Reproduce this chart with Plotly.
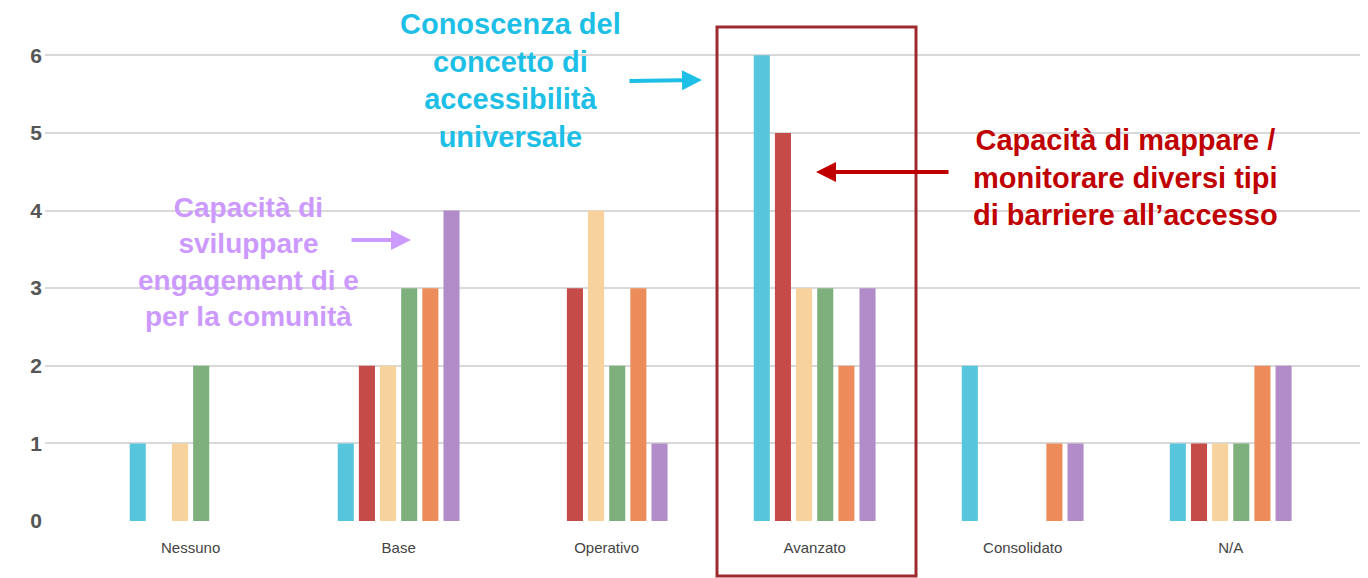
import plotly.graph_objects as go

categories = ["Nessuno", "Base", "Operativo", "Avanzato", "Consolidato", "N/A"]
series_names = ["Conoscenza del concetto di accessibilità universale",
                "Capacità di mappare / monitorare diversi tipi di barriere all'accesso",
                "Serie 3", "Serie 4", "Serie 5",
                "Capacità di sviluppare engagement di e per la comunità"]
s_cyan = [1, 1, 0, 6, 2, 1]
s_red = [0, 2, 3, 5, 0, 1]
s_beige = [1, 2, 4, 3, 0, 1]
s_green = [2, 3, 2, 3, 0, 1]
s_orange = [0, 3, 3, 2, 1, 2]
s_purple = [0, 4, 1, 3, 1, 2]
y_ticks = [0, 1, 2, 3, 4, 5, 6]

values = [s_cyan, s_red, s_beige, s_green, s_orange, s_purple]
colors = ["#57C5DB", "#C44B48", "#F8D29C", "#7DB07C", "#EC8C5A", "#B18CC8"]

fig = go.Figure()
for name, vals, col in zip(series_names, values, colors):
    fig.add_trace(go.Bar(x=categories, y=vals, name=name, marker=dict(color=col, line_width=0),
                         showlegend=False))

OFF = 8  # page body margin
W, H = 1368 - OFF, 578 - OFF
L, R, T, B = 45 - OFF, 0, 32 - OFF, 57
pw, ph = W - L - R, H - T - B


def px(x):
    return (x - OFF - L) / pw


def py(y):
    return (H - B - (y - OFF)) / ph


fig.update_layout(
    width=W, height=H,
    margin=dict(l=L, r=R, t=T, b=B, autoexpand=False),
    paper_bgcolor="white", plot_bgcolor="white",
    barmode="group", bargap=0.39, bargroupgap=0.24,
    font=dict(family="Liberation Sans, Arial, sans-serif"),
    xaxis=dict(range=[-0.7, 5.66], showgrid=False, zeroline=False, showline=False,
               automargin=False,
               tickfont=dict(size=15, color="#444444"), ticks="", ticklabelstandoff=16),
    yaxis=dict(range=[0, 6.3], tickvals=y_ticks, showgrid=True, gridcolor="#d9d9d9", gridwidth=2,
               zeroline=False, showline=False, ticks="", ticklabelstandoff=2, automargin=False,
               tickfont=dict(size=21, color="#555555", weight="bold")),
)

# framing rectangle around "Avanzato"
fig.add_shape(type="rect", xref="paper", yref="paper",
              x0=px(717), x1=px(916), y0=py(576), y1=py(27),
              line=dict(color="#9E2A2F", width=3), fillcolor="rgba(0,0,0,0)")

bold = "Liberation Sans, Arial, sans-serif"
fig.add_annotation(xref="paper", yref="paper", x=px(510), y=py(80), showarrow=False,
                   xanchor="center", yanchor="middle",
                   text="<b>Conoscenza del<br>concetto di<br>accessibilità<br>universale</b>",
                   font=dict(size=29, color="#1EBFE6", family=bold), align="center")
fig.add_annotation(xref="paper", yref="paper", x=px(248), y=py(262), showarrow=False,
                   xanchor="center", yanchor="middle",
                   text="<b>Capacità di<br>sviluppare<br>engagement di e<br>per la comunità</b>",
                   font=dict(size=28, color="#CC99FF", family=bold), align="center")
fig.add_annotation(xref="paper", yref="paper", x=px(1125), y=py(177), showarrow=False,
                   xanchor="center", yanchor="middle",
                   text="<b>Capacità di mappare /<br>monitorare diversi tipi<br>di barriere all’accesso</b>",
                   font=dict(size=29, color="#C00000", family=bold), align="center")

# arrows
for (tx, ty, hx, hy, col) in [(628, 81, 702, 80, "#1EBFE6"),
                               (350, 240, 411, 240, "#CC99FF"),
                               (950, 172, 816, 172, "#C00000")]:
    fig.add_annotation(xref="paper", yref="paper", x=px(hx), y=py(hy),
                       axref="pixel", ayref="pixel", ax=tx - hx, ay=ty - hy,
                       text="", showarrow=True, arrowhead=2, arrowsize=1.0,
                       arrowwidth=4, arrowcolor=col)

fig.write_html("out.html")
